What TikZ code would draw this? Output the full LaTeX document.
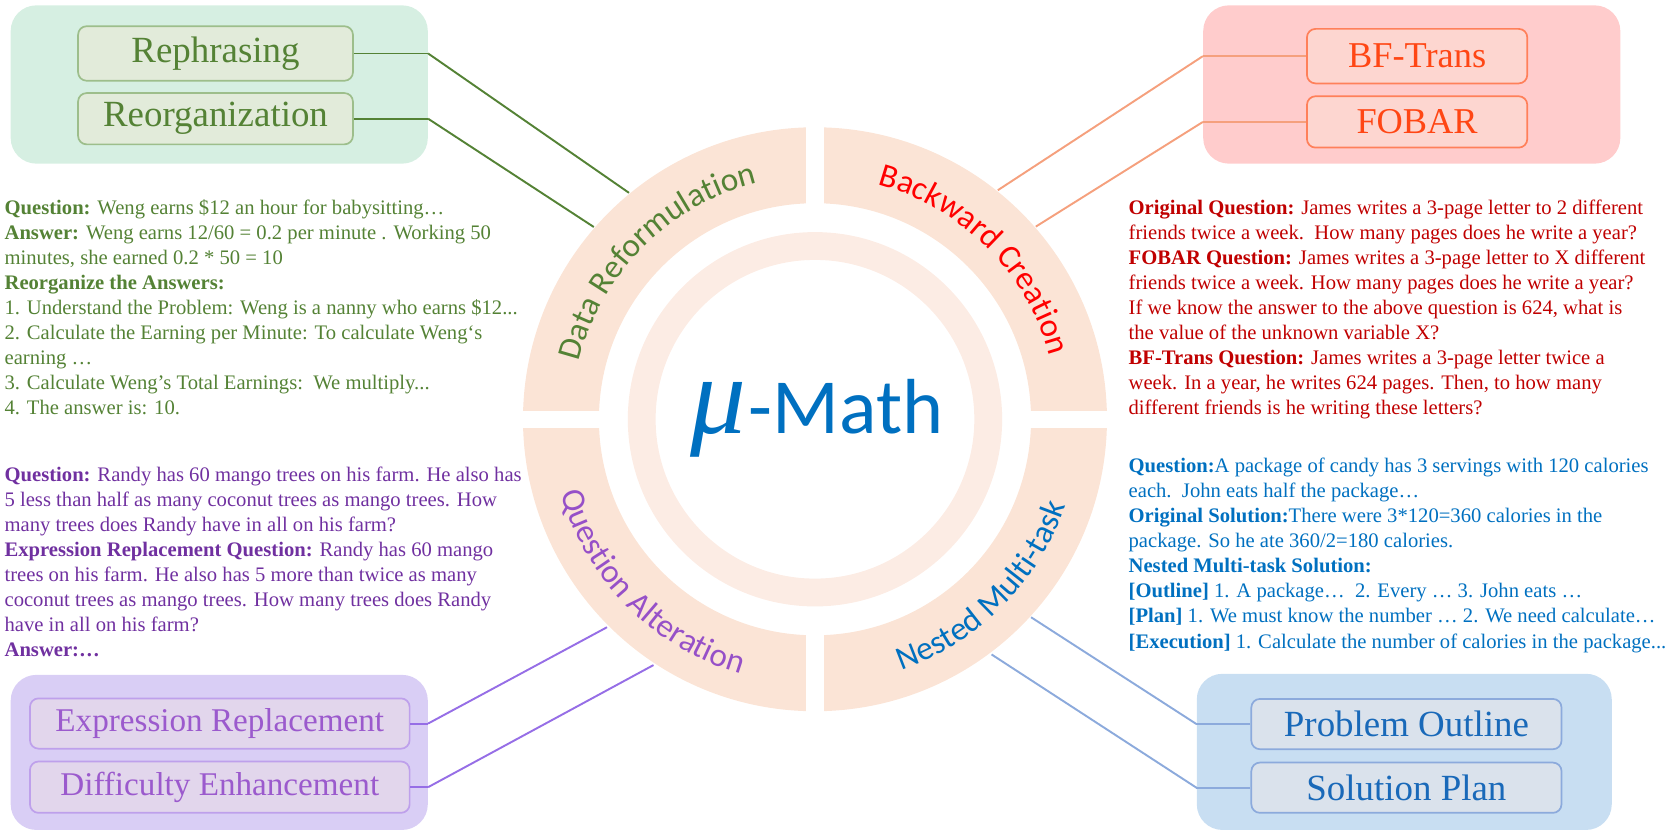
\documentclass[tikz,border=0pt]{standalone}
\usepackage{fontspec}
\setmainfont{Liberation Serif}
\newfontfamily\arcfont{Carlito}
\usetikzlibrary{decorations.text,calc}
\definecolor{panel_green}{RGB}{214,239,226}
\definecolor{leaf_green}{RGB}{226,235,218}
\definecolor{line_green}{RGB}{157,190,139}
\definecolor{edge_green}{RGB}{84,130,53}
\definecolor{panel_red}{RGB}{255,204,204}
\definecolor{leaf_red}{RGB}{253,214,208}
\definecolor{line_red}{RGB}{255,128,90}
\definecolor{edge_red}{RGB}{245,160,125}
\definecolor{text_red}{RGB}{192,0,0}
\definecolor{label_red}{RGB}{255,70,20}
\definecolor{panel_purple}{RGB}{217,206,245}
\definecolor{leaf_purple}{RGB}{226,214,236}
\definecolor{line_purple}{RGB}{190,160,235}
\definecolor{edge_purple}{RGB}{150,110,230}
\definecolor{text_purple}{RGB}{112,48,160}
\definecolor{label_purple}{RGB}{155,90,205}
\definecolor{panel_blue}{RGB}{200,222,242}
\definecolor{leaf_blue}{RGB}{218,226,236}
\definecolor{edge_blue}{RGB}{140,170,220}
\definecolor{text_blue}{RGB}{0,112,192}
\definecolor{label_blue}{RGB}{25,105,185}
\definecolor{ring_peach}{RGB}{251,228,214}
\definecolor{ring_light}{RGB}{252,236,228}
\definecolor{arc_purple}{RGB}{150,80,200}

\begin{document}
\begin{tikzpicture}[semithick,x=1pt,y=1pt]
    \tikzstyle{panel}=[rounded corners=24, minimum width=390, minimum height=148, inner sep=0]
    \tikzstyle{leaf}=[draw, rounded corners=8, line width=1.6, inner sep=0, font=\fontsize{34.5}{34.5}\selectfont]
    \tikzstyle{leafgrn}=[style=leaf, minimum width=257, fill=leaf_green, draw=line_green, text=edge_green]
    \tikzstyle{leafred}=[style=leaf, minimum width=206, fill=leaf_red, draw=line_red, text=label_red, font=\fontsize{34}{34}\selectfont]
    \tikzstyle{leafpur}=[style=leaf, minimum width=355, fill=leaf_purple, draw=line_purple, text=label_purple, font=\fontsize{31}{31}\selectfont]
    \tikzstyle{leafblu}=[style=leaf, minimum width=290, fill=leaf_blue, draw=edge_blue, text=label_blue]
    \tikzstyle{story}=[anchor=north west, align=left, inner sep=0, font=\fontsize{19.3}{23.4}\selectfont]
    \tikzstyle{wire}=[line width=1.8]

    \useasboundingbox (0,0) rectangle (1568,-782);
    \coordinate (C) at (762,-392);

    \fill[ring_peach, even odd rule] (C) circle (273) (C) circle (202);
    \fill[white] (754,-110) rectangle (770,-674);
    \fill[white] (480,-384) rectangle (1044,-400);
    \fill[ring_light, even odd rule] (C) circle (175) (C) circle (149);

    \path[decorate, decoration={text along path, text align=center, text color=edge_green,
      text={|\arcfont\fontsize{31}{31}\selectfont|Data Reformulation}}]
      ([shift={(180:227)}]C) arc[start angle=180, end angle=90, radius=227];
    \path[decorate, decoration={text along path, text align=center, text color=red,
      text={|\arcfont\fontsize{31}{31}\selectfont|Backward Creation}}]
      ([shift={(90:227)}]C) arc[start angle=90, end angle=0, radius=227];
    \path[decorate, decoration={text along path, text align=center, text color=arc_purple,
      text={|\arcfont\fontsize{31}{31}\selectfont|Question Alteration}}]
      ([shift={(180:248)}]C) arc[start angle=180, end angle=270, radius=248];
    \path[decorate, decoration={text along path, text align=center, text color=text_blue,
      text={|\arcfont\fontsize{31}{31}\selectfont|Nested Multi-task}}]
      ([shift={(270:248)}]C) arc[start angle=270, end angle=360, radius=248];

    \node[text=text_blue, anchor=base, inner sep=0, font=\arcfont\fontsize{73}{73}\selectfont] (title) at (764,-405)
      {{\rmfamily\itshape\fontsize{104}{104}\selectfont μ}\kern2pt-Math};

    \node[panel, fill=panel_green]                      (grnpanel) at (205,-79)    {};
    \node[panel, fill=panel_red]                        (redpanel) at (1320,-79)   {};
    \node[panel, fill=panel_purple, minimum height=145] (purpanel) at (205,-703.5) {};
    \node[panel, fill=panel_blue, minimum width=388, minimum height=146] (blupanel) at (1313,-703) {};

    \node[leafgrn, minimum height=51] (rephr)   at (201.5,-50)  {Rephrasing};
    \node[leafgrn, minimum height=48] (reorg)   at (201.5,-111) {Reorganization};
    \node[leafred, minimum height=51] (bftrans) at (1325,-52.5) {BF-Trans};
    \node[leafred, minimum height=48] (fobar)   at (1325,-114)  {FOBAR};
    \node[leafpur, minimum height=47] (exprep)  at (205.5,-676.5) {Expression Replacement};
    \node[leafpur, minimum height=48] (diffup)  at (205.5,-736)   {Difficulty Enhancement};
    \node[leafblu, minimum height=47] (probout) at (1315,-677)    {Problem Outline};
    \node[leafblu, minimum height=47] (solplan) at (1315,-736.5)  {Solution Plan};

    \coordinate (jRephr)   at (grnpanel.east |- rephr.east);
    \coordinate (jReorg)   at (grnpanel.east |- reorg.east);
    \coordinate (jBftrans) at (redpanel.west |- bftrans.west);
    \coordinate (jFobar)   at (redpanel.west |- fobar.west);
    \coordinate (jExprep)  at (purpanel.east |- exprep.east);
    \coordinate (jDiffup)  at (purpanel.east |- diffup.east);
    \coordinate (jProbout) at (blupanel.west |- probout.west);
    \coordinate (jSolplan) at (blupanel.west |- solplan.west);

    \coordinate (rRephr)   at ([shift={(129.4:274)}]C);
    \coordinate (rReorg)   at ([shift={(139:274)}]C);
    \coordinate (rBftrans) at ([shift={(51.4:274)}]C);
    \coordinate (rFobar)   at ([shift={(41.1:274)}]C);
    \coordinate (rExprep)  at ([shift={(225:275)}]C);
    \coordinate (rDiffup)  at ([shift={(236.7:275)}]C);
    \coordinate (rProbout) at ([shift={(317.5:274)}]C);
    \coordinate (rSolplan) at ([shift={(306.9:275)}]C);

    \path[wire]
     (rephr.east)   edge[edge_green]  (jRephr)   (jRephr)   edge[edge_green]  (rRephr)
     (reorg.east)   edge[edge_green]  (jReorg)   (jReorg)   edge[edge_green]  (rReorg)
     (bftrans.west) edge[edge_red]    (jBftrans) (jBftrans) edge[edge_red]    (rBftrans)
     (fobar.west)   edge[edge_red]    (jFobar)   (jFobar)   edge[edge_red]    (rFobar)
     (exprep.east)  edge[edge_purple] (jExprep)  (jExprep)  edge[edge_purple] (rExprep)
     (diffup.east)  edge[edge_purple] (jDiffup)  (jDiffup)  edge[edge_purple] (rDiffup)
     (probout.west) edge[edge_blue]   (jProbout) (jProbout) edge[edge_blue]   (rProbout)
     (solplan.west) edge[edge_blue]   (jSolplan) (jSolplan) edge[edge_blue]   (rSolplan);

    \node[story, text=edge_green] (grntext) at (4,-186) {%
      \textbf{Question:} Weng earns \$12 an hour for babysitting…\\
      \textbf{Answer:} Weng earns 12/60 = 0.2 per minute . Working 50\\
      minutes, she earned 0.2 * 50 = 10\\
      \textbf{Reorganize the Answers:}\\
      1. Understand the Problem: Weng is a nanny who earns \$12...\\
      2. Calculate the Earning per Minute: To calculate Weng‘s\\
      earning …\\
      3. Calculate Weng’s Total Earnings:\ \ We multiply...\\
      4. The answer is: 10.};
    \node[story, text=text_red] (redtext) at (1055,-186.7) {%
      \textbf{Original Question:} James writes a 3-page letter to 2 different\\
      friends twice a week.\ \ How many pages does he write a year?\\
      \textbf{FOBAR Question:} James writes a 3-page letter to X different\\
      friends twice a week. How many pages does he write a year?\\
      If we know the answer to the above question is 624, what is\\
      the value of the unknown variable X?\\
      \textbf{BF-Trans Question:} James writes a 3-page letter twice a\\
      week. In a year, he writes 624 pages. Then, to how many\\
      different friends is he writing these letters?};
    \node[story, text=text_purple] (purtext) at (4,-436.2) {%
      \textbf{Question:} Randy has 60 mango trees on his farm. He also has\\
      5 less than half as many coconut trees as mango trees. How\\
      many trees does Randy have in all on his farm?\\
      \textbf{Expression Replacement Question:} Randy has 60 mango\\
      trees on his farm. He also has 5 more than twice as many\\
      coconut trees as mango trees. How many trees does Randy\\
      have in all on his farm?\\
      \textbf{Answer:…}};
    \node[story, text=text_blue] (blutext) at (1055,-428.2) {%
      \textbf{Question:}A package of candy has 3 servings with 120 calories\\
      each.\ \ John eats half the package…\\
      \textbf{Original Solution:}There were 3*120=360 calories in the\\
      package. So he ate 360/2=180 calories.\\
      \textbf{Nested Multi-task Solution:}\\
      \textbf{[Outline]} 1. A package…\ \ 2. Every … 3. John eats …\\
      \textbf{[Plan]} 1. We must know the number … 2. We need calculate…\\
      \textbf{[Execution]} 1. Calculate the number of calories in the package...};
\end{tikzpicture}
\end{document}
